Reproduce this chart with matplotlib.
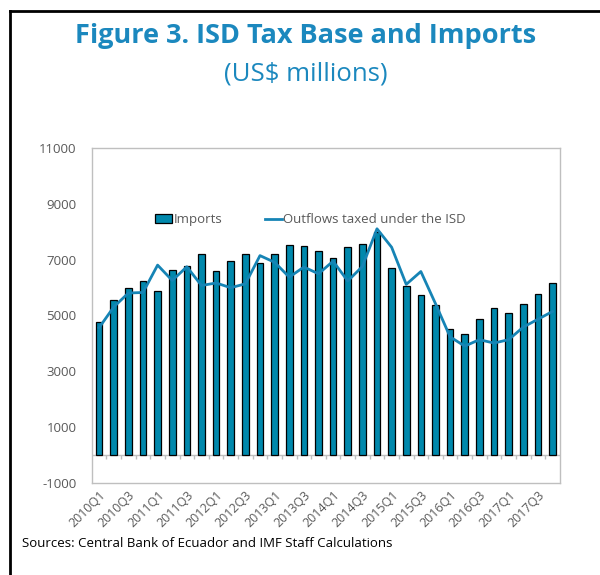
import matplotlib
matplotlib.use("Agg")
import matplotlib.pyplot as plt
from matplotlib.lines import Line2D
import numpy as np

# Quarterly data, US$ millions
QUARTERS = [f"{y}Q{q}" for y in range(2010, 2018) for q in range(1, 5)]
IMPORTS = [4780, 5550, 5980, 6230, 5880, 6640, 6760, 7180,
           6580, 6940, 7190, 6890, 7200, 7510, 7480, 7310,
           7070, 7450, 7570, 7990, 6680, 6060, 5730, 5360,
           4510, 4350, 4860, 5270, 5100, 5420, 5780, 6160]
OUTFLOWS = [4560, 5300, 5800, 5820, 6800, 6250, 6740, 6070,
            6160, 5990, 6130, 7140, 6900, 6370, 6730, 6490,
            6940, 6230, 6750, 8100, 7440, 6110, 6570, 5420,
            4230, 3900, 4130, 4010, 4130, 4580, 4860, 5140]
YTICKS = [-1000, 1000, 3000, 5000, 7000, 9000, 11000]

TEAL_BAR = "#0088AC"
TEAL_LINE = "#1684B5"
TITLE_COL = "#1B88BE"
GRAY_TXT = "#595959"
GRAY_LINE = "#BFBFBF"

plt.rcParams["font.family"] = ["Open Sans", "DejaVu Sans"]
plt.rcParams["axes.unicode_minus"] = False

fig = plt.figure(figsize=(6, 5.75), dpi=100)
ax = fig.add_axes([0.153, 0.16, 0.78, 0.583])

x = np.arange(len(QUARTERS))
bars = ax.bar(x, IMPORTS, width=0.45, color=TEAL_BAR, edgecolor="black",
              linewidth=0.9, label="Imports", zorder=2)
line, = ax.plot(x, OUTFLOWS, color=TEAL_LINE, linewidth=2,
                label="Outflows taxed under the ISD", zorder=3)

# category axis sits on zero, with small marks between categories
ax.axhline(0, color=GRAY_LINE, linewidth=1, zorder=1)
ax.vlines(x[1:] - 0.5, -150, 0, color=GRAY_LINE, linewidth=1, zorder=1)

ax.set_xlim(-0.5, len(QUARTERS) - 0.5)
ax.set_ylim(-1000, 11000)
ax.set_yticks(YTICKS)
ax.set_yticklabels([str(v) for v in YTICKS], color=GRAY_TXT, fontsize=9.5)
ax.set_xticks(x[::2])
ax.set_xticklabels(QUARTERS[::2], rotation=45, ha="right",
                   rotation_mode="anchor", color=GRAY_TXT, fontsize=9)
ax.tick_params(axis="x", length=0, pad=4)
ax.tick_params(axis="y", length=0, pad=11)
for s in ax.spines.values():
    s.set_color(GRAY_LINE)
    s.set_linewidth(1)

leg = ax.legend([bars, line], ["Imports", "Outflows taxed under the ISD"],
                loc="center left", bbox_to_anchor=(0.11, 0.785), ncol=2,
                frameon=False, fontsize=9.5, handlelength=1.3,
                handletextpad=0.1, columnspacing=3.2)
for t in leg.get_texts():
    t.set_color(GRAY_TXT)

fig.text(0.51, 0.938, "Figure 3. ISD Tax Base and Imports", ha="center",
         va="center", fontsize=19.5, fontweight="bold", color=TITLE_COL)
fig.text(0.51, 0.871, "(US$ millions)", ha="center", va="center",
         fontsize=18.5, color=TITLE_COL)
fig.text(0.037, 0.054, "Sources: Central Bank of Ecuador and IMF Staff Calculations",
         ha="left", va="center", fontsize=9.5, color="black")

# frame around the figure (left and top edges only visible)
fig.add_artist(Line2D([0.017, 0.017], [0.0, 0.981], color="black", linewidth=2))
fig.add_artist(Line2D([0.017, 1.0], [0.981, 0.981], color="black", linewidth=2))

fig.savefig("out.png", dpi=100)
